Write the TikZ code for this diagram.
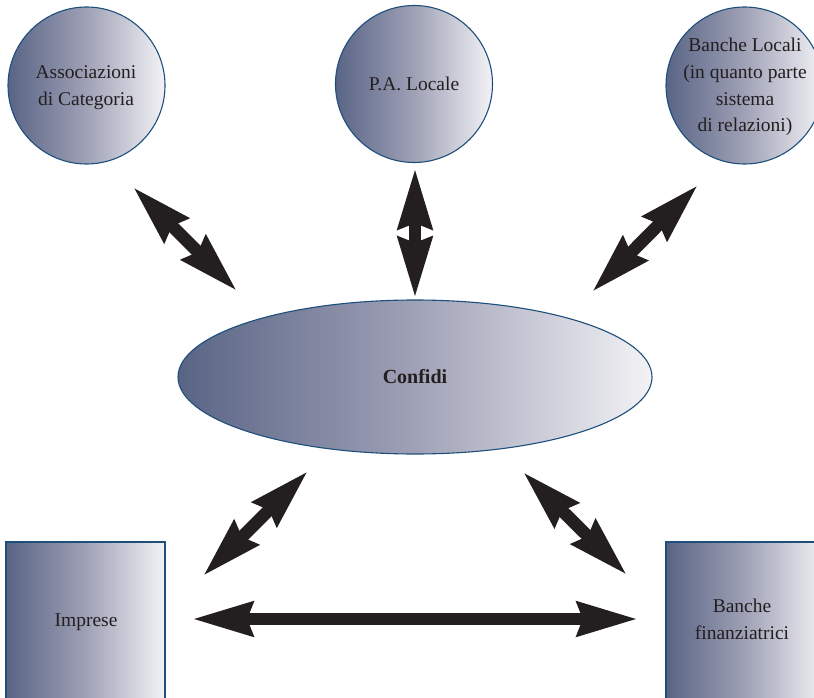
\documentclass[tikz,border=0pt]{standalone}
\usepackage{fontspec}
\setmainfont{Liberation Serif}
\usetikzlibrary{arrows.meta,shapes.geometric}

\definecolor{shadeL}{HTML}{596485}
\definecolor{shadeM}{HTML}{9FA1B6}
\definecolor{shadeR}{HTML}{F3F3F6}
\definecolor{edgeblue}{HTML}{1D4F7D}
\definecolor{ink}{HTML}{231F20}

\tikzset{
  body/.style={draw=edgeblue, line width=1.1pt, left color=shadeL, right color=shadeR, middle color=shadeM, inner sep=0pt},
  disc/.style={body, circle, minimum size=157pt},
  oval/.style={body, ellipse, minimum width=474pt, minimum height=154pt},
  block/.style={body, rectangle, minimum width=159pt, minimum height=163pt},
  label text/.style={text=ink, align=center, inner sep=0pt, font=\fontsize{19.5}{26.7}\selectfont},
  fat/.style={draw=ink, line width=12.5pt, {Stealth[length=60pt, width=33pt, inset=5pt]}-{Stealth[length=60pt, width=33pt, inset=5pt]}}
}

\begin{document}
\begin{tikzpicture}[x=1pt, y=-1pt]
  \useasboundingbox (0,0) rectangle (814,698);
  \clip (0,0) rectangle (814,698);

  % actors
  \node[disc] (assoc) at (86.5,85.5) {};
  \node[disc] (pa) at (414,84) {};
  \node[disc] (banloc) at (744.5,85.5) {};
  \node[oval] (confidi) at (415,377) {};
  \node[block] (imprese) at (85.5,623.5) {};
  \node[block] (banfin) at (745.5,623.5) {};

  % captions
  \node[label text] (assocT) at (86,87.5) {Associazioni\\di Categoria};
  \node[label text] (paT) at (pa.center) {P.A. Locale};
  \node[label text] (banlocT) at (745,87) {Banche Locali\\(in quanto parte\\sistema\\di relazioni)};
  \node[label text, font=\fontsize{20}{24}\selectfont\bfseries] (confidiT) at (confidi.center) {Confidi};
  \node[label text] (impreseT) at (86,622.6) {Imprese};
  \node[label text] (banfinT) at (742,619.5) {Banche\\finanziatrici};

  % free ends of the two-way links
  \coordinate (l1a) at (133,187);  \coordinate (l1b) at (237,291);
  \coordinate (l2a) at (415,168);  \coordinate (l2b) at (415,298);
  \coordinate (l3a) at (698,185);  \coordinate (l3b) at (592,292);
  \coordinate (l4a) at (308,471);  \coordinate (l4b) at (203,576);
  \coordinate (l5a) at (523,472);  \coordinate (l5b) at (627,575);
  \coordinate (l6a) at (192,619);  \coordinate (l6b) at (638,619);

  \draw[fat] (l1a) -- (l1b);
  \draw[fat] (l2a) -- (l2b);
  \draw[fat] (l3a) -- (l3b);
  \draw[fat] (l4a) -- (l4b);
  \draw[fat] (l5a) -- (l5b);
  \draw[fat] (l6a) -- (l6b);
\end{tikzpicture}
\end{document}
